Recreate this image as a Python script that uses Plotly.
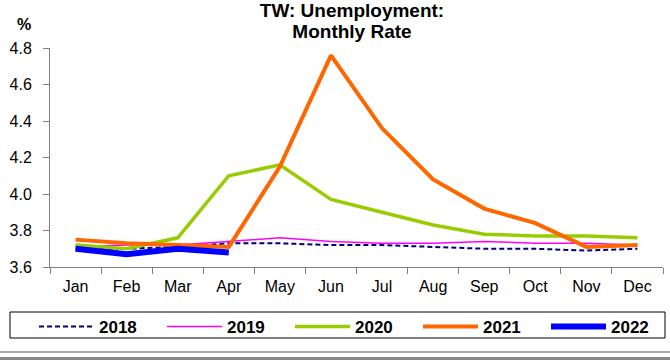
import plotly.graph_objects as go

months = ['Jan', 'Feb', 'Mar', 'Apr', 'May', 'Jun', 'Jul', 'Aug', 'Sep', 'Oct', 'Nov', 'Dec']

rate_2018 = [3.70, 3.70, 3.71, 3.73, 3.73, 3.72, 3.72, 3.71, 3.70, 3.70, 3.69, 3.70]
rate_2019 = [3.71, 3.72, 3.72, 3.74, 3.76, 3.74, 3.73, 3.73, 3.74, 3.73, 3.73, 3.72]
rate_2020 = [3.72, 3.70, 3.76, 4.10, 4.16, 3.97, 3.90, 3.83, 3.78, 3.77, 3.77, 3.76]
rate_2021 = [3.75, 3.73, 3.72, 3.71, 4.15, 4.76, 4.36, 4.08, 3.92, 3.84, 3.71, 3.72]
rate_2022 = [3.70, 3.67, 3.70, 3.68]

yticks = [3.6, 3.8, 4.0, 4.2, 4.4, 4.6, 4.8]

FONT = 'Liberation Sans, Arial, sans-serif'

fig = go.Figure()
fig.add_trace(go.Scatter(x=months, y=rate_2018, name='<b>2018</b>', mode='lines',
                         line=dict(color='#000080', width=2, dash='5px,3px')))
fig.add_trace(go.Scatter(x=months, y=rate_2019, name='<b>2019</b>', mode='lines',
                         line=dict(color='#ff00ff', width=1.5)))
fig.add_trace(go.Scatter(x=months, y=rate_2020, name='<b>2020</b>', mode='lines',
                         line=dict(color='#99cc00', width=3.5)))
fig.add_trace(go.Scatter(x=months, y=rate_2021, name='<b>2021</b>', mode='lines',
                         line=dict(color='#ff6600', width=4)))
fig.add_trace(go.Scatter(x=months[:len(rate_2022)], y=rate_2022, name='<b>2022</b>', mode='lines',
                         line=dict(color='#0000ff', width=6)))

# plot area is 50..663 px wide, 48..267 px tall
pw, ph = 613, 219


def px_x(v):
    return (v - 50) / pw


def px_y(v):
    return (267 - v) / ph


title_text = ('<b><span style="font-size:19px">TW: Unemployment:</span><br>'
              '<span style="font-size:19px">Monthly Rate</span></b>')

fig.update_layout(
    width=670, height=360,
    margin=dict(l=50, r=7, t=48, b=93, autoexpand=False),
    paper_bgcolor='white', plot_bgcolor='white',
    font=dict(family=FONT, size=13, color='black'),
    title=dict(text=title_text, x=px_x(352), xref='paper',
               xanchor='center', y=1 - 17 / 360, yref='container', yanchor='middle',
               font=dict(size=16)),
    showlegend=True,
    legend=dict(orientation='h', x=px_x(34), xanchor='left', y=px_y(309), yanchor='top',
                font=dict(size=17), itemwidth=55, entrywidth=58, entrywidthmode='pixels',
                bgcolor='rgba(0,0,0,0)', traceorder='normal'),
    annotations=[dict(text='<b>%</b>', xref='paper', yref='paper', x=px_x(24), y=px_y(25),
                      xanchor='center', yanchor='middle', showarrow=False,
                      font=dict(size=16))],
    shapes=[
        dict(type='rect', xref='paper', yref='paper', x0=px_x(10), x1=px_x(665),
             y0=px_y(312), y1=px_y(338), line=dict(color='black', width=1)),
        dict(type='line', xref='paper', yref='paper', x0=px_x(0), x1=px_x(670),
             y0=px_y(352), y1=px_y(352), line=dict(color='#555555', width=1)),
        dict(type='line', xref='paper', yref='paper', x0=px_x(0), x1=px_x(670),
             y0=px_y(358.5), y1=px_y(358.5), line=dict(color='#888888', width=3)),
    ],
)
fig.update_xaxes(showline=True, linecolor='#808080', linewidth=1, showgrid=False,
                 ticks='outside', tickson='boundaries', ticklen=6, tickcolor='#808080',
                 tickfont=dict(size=16), ticklabelstandoff=5, range=[-0.5, 11.5])
fig.update_yaxes(range=[3.6, 4.8], tickvals=yticks, tickformat='.1f', showline=True,
                 linecolor='#808080', linewidth=1, showgrid=False, zeroline=False,
                 ticks='outside', ticklen=6, tickcolor='#808080', tickfont=dict(size=16),
                 ticklabelstandoff=8)

# drop the page's default body margin so the figure sits at the window's corner
fig.write_html('out.html', config={'displayModeBar': False},
               post_script="document.body.style.margin='0px';")
